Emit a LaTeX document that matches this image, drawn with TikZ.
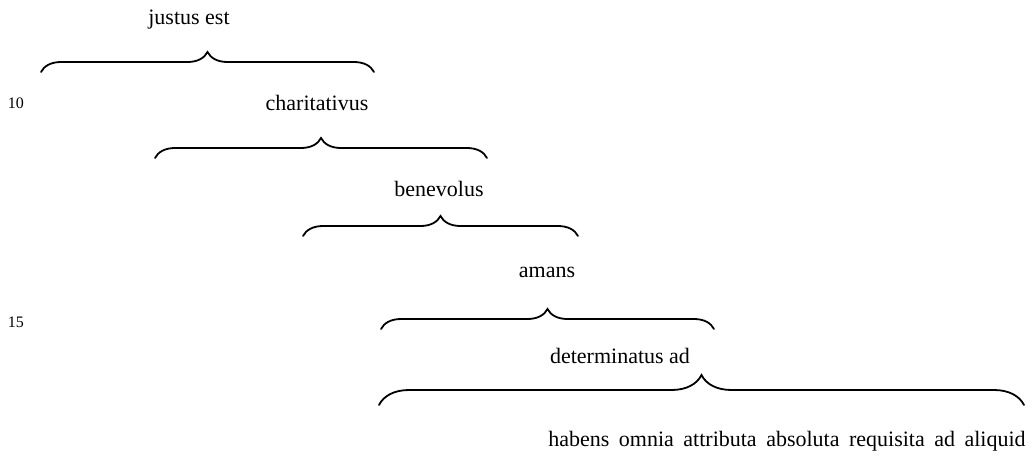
\documentclass[tikz,border=0pt]{standalone}
\usepackage{fontspec}
\setmainfont{Liberation Serif}
\usetikzlibrary{decorations.pathreplacing}
\begin{document}
\begin{tikzpicture}[x=1pt,y=-1pt,
  lbl/.style={inner sep=0pt,font=\fontsize{22}{26}\selectfont},
  num/.style={inner sep=0pt,font=\fontsize{16}{18}\selectfont},
  brc/.style={decorate,decoration={brace,amplitude=#1},line width=1.8pt,line cap=round},
  brc/.default=20pt]
\useasboundingbox (0,0) rectangle (1032,456);
\node[lbl] (t1) at (189,20) {justus est};
\node[num] (n10) at (16,103) {10};
\node[lbl] (t2) at (317,103) {charitativus};
\node[lbl] (t3) at (439,189) {benevolus};
\node[lbl] (t4) at (547,272) {amans};
\node[num] (n15) at (16,322) {15};
\node[lbl] (t5) at (620,356) {determinatus ad};
\node[lbl] (t6) at (787,441) {\spaceskip=9.5pt habens omnia attributa absoluta requisita ad aliquid};
\coordinate (a1) at (41,72); \coordinate (b1) at (374,72);
\coordinate (a2) at (155,158); \coordinate (b2) at (487,158);
\coordinate (a3) at (303,236); \coordinate (b3) at (578,236);
\coordinate (a4) at (381,329); \coordinate (b4) at (714,329);
\coordinate (a5) at (379,405); \coordinate (b5) at (1024,405);
\draw[brc] (a1) -- (b1);
\draw[brc] (a2) -- (b2);
\draw[brc] (a3) -- (b3);
\draw[brc] (a4) -- (b4);
\draw[brc=30pt] (a5) -- (b5);
\end{tikzpicture}
\end{document}
